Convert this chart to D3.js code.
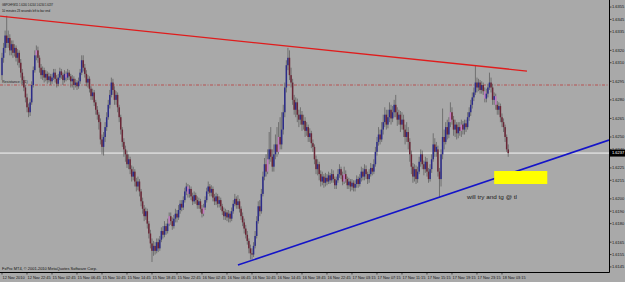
<!DOCTYPE html>
<html><head><meta charset="utf-8">
<script src="https://cdn.jsdelivr.net/npm/d3@7/dist/d3.min.js"></script>
<style>html,body{margin:0;padding:0;background:#a9a9a9;overflow:hidden}svg{display:block}</style>
</head><body><svg id="c" width="625" height="282"></svg>
<script>
// ---------- DATA (prices in pips above basePrice) ----------
const basePrice = 1.6;
const opens = [
300,314,322,332,326,330,320,325,318,322, 314,318,310,302,296,290,282,274,270,278,
292,304,316,320,314,306,300,304,298,301, 296,299,295,298,302,297,293,298,303,300,
296,301,298,302,299,295,297,292,294,291, 295,302,312,306,301,294,297,289,283,286,
278,272,268,262,248,242,250,258,266,276, 284,294,288,280,284,274,266,256,246,240,
236,228,232,224,218,222,214,210,214,206, 198,192,186,190,180,172,164,158,162,158,
165,160,167,174,171,178,174,180,186,182, 178,184,188,185,191,196,193,199,206,210,
204,208,202,198,203,199,195,198,192,188, 193,199,206,210,205,208,201,198,202,196,
199,194,190,186,189,185,188,184,190,196, 200,195,198,192,186,181,176,171,166,160,
156,155,162,170,182,194,190,204,218,228, 222,232,240,234,226,236,244,238,250,244,
256,270,290,308,314,300,294,280,272,278, 268,264,268,260,263,255,258,250,253,245,
242,232,224,228,220,214,218,213,217,214, 219,215,220,216,211,215,220,224,219,214,
220,216,211,214,210,213,209,212,216,212, 217,222,218,224,220,216,220,225,222,228,
238,246,252,248,256,262,268,260,266,272, 265,270,276,270,264,268,260,264,256,250,
254,246,236,226,218,224,216,222,230,236, 228,224,230,222,216,224,232,244,238,240,
222,216,236,250,246,258,252,262,270,264, 256,260,253,258,255,260,256,261,258,266,
270,276,282,286,294,290,294,288,292,287, 281,285,290,294,290,280,283,276,272,275,
266,262,258,250,240];
const closes = [
314,322,332,326,330,320,325,318,322,314, 318,310,302,296,290,282,274,270,278,292,
304,316,320,314,306,300,304,298,301,296, 299,295,298,302,297,293,298,303,300,296,
301,298,302,299,295,297,292,294,291,295, 302,312,306,301,294,297,289,283,286,278,
272,268,262,248,242,250,258,266,276,284, 294,288,280,284,274,266,256,246,240,236,
228,232,224,218,222,214,210,214,206,198, 192,186,190,180,172,164,158,162,158,165,
160,167,174,171,178,174,180,186,182,178, 184,188,185,191,196,193,199,206,210,204,
208,202,198,203,199,195,198,192,188,193, 199,206,210,205,208,201,198,202,196,199,
194,190,186,189,185,188,184,190,196,200, 195,198,192,186,181,176,171,166,160,156,
155,162,170,182,194,190,204,218,228,222, 232,240,234,226,236,244,238,250,244,256,
270,290,308,314,300,294,280,272,278,268, 264,268,260,263,255,258,250,253,245,242,
232,224,228,220,214,218,213,217,214,219, 215,220,216,211,215,220,224,219,214,220,
216,211,214,210,213,209,212,216,212,217, 222,218,224,220,216,220,225,222,228,238,
246,252,248,256,262,268,260,266,272,265, 270,276,270,264,268,260,264,256,250,254,
246,236,226,218,224,216,222,230,236,228, 224,230,222,216,224,232,244,238,242,222,
216,236,250,246,258,252,262,270,264,256, 260,253,258,255,260,256,261,258,266,270,
276,282,286,294,290,294,288,292,287,281, 285,290,294,290,280,283,276,272,275,266,
262,258,250,240,237];
const highs = [
318,326,336,348,336,333,328,328,325,324, 321,320,313,305,299,292,285,277,281,295,
307,320,324,323,316,309,307,306,304,303, 302,301,301,305,305,300,301,306,305,302,
304,303,305,304,301,300,299,297,296,298, 305,316,316,309,304,300,299,291,289,288,
280,275,270,265,252,254,262,270,280,288, 298,297,291,287,286,276,268,258,249,243,
239,236,234,227,226,224,217,218,216,208, 201,195,193,192,182,175,168,166,165,168,
168,170,177,178,182,180,184,189,189,185, 187,192,191,195,199,199,202,209,213,212,
211,210,205,206,205,202,201,200,195,196, 202,209,214,212,211,210,204,205,204,202,
201,196,193,192,191,191,190,193,199,204, 202,203,200,194,189,184,179,174,168,163,
160,165,174,186,198,199,208,222,233,236, 240,254,258,240,244,252,258,262,266,270,
276,294,312,322,320,306,297,284,282,281, 272,274,271,268,266,262,260,257,255,248,
244,235,232,230,223,222,220,221,220,222, 221,224,223,218,218,224,228,226,222,226,
223,218,217,216,216,215,215,219,218,220, 226,225,228,227,222,224,229,228,232,242,
250,258,256,262,268,274,272,272,278,276, 275,280,284,274,272,271,270,268,260,262,
258,249,239,229,228,227,226,234,240,239, 231,234,233,225,228,236,253,249,246,243,
225,240,273,256,262,264,266,278,274,267, 264,262,262,262,264,263,264,264,270,274,
280,286,290,308,298,297,296,295,294,290, 289,293,302,298,293,286,285,279,278,277,
269,265,260,252,244];
const lows = [
296,310,318,322,322,316,316,314,315,311, 308,306,298,292,287,278,270,266,267,276,
290,302,312,310,302,297,296,294,295,293, 294,292,293,296,294,290,291,296,297,292,
294,295,296,296,290,290,288,290,288,289, 293,300,303,298,291,290,286,280,280,275,
268,264,256,244,236,235,246,255,264,273, 282,284,276,276,270,262,252,242,234,230,
225,224,220,214,215,210,206,207,202,194, 188,182,183,176,168,160,149,154,155,156,
157,158,165,168,169,171,172,178,179,175, 176,181,181,183,188,190,191,197,203,201,
201,199,195,196,196,192,192,189,185,186, 191,197,204,202,202,198,195,195,193,193,
191,187,183,183,182,181,181,182,188,194, 192,192,189,183,178,172,168,163,156,151,
151,153,160,168,180,186,188,202,215,218, 220,228,230,222,222,232,234,236,240,240,
252,266,286,304,296,290,276,268,266,262, 258,260,255,256,250,251,246,246,241,238,
228,220,219,215,210,211,209,210,211,212, 212,213,213,208,208,213,217,216,211,212,
213,208,208,206,207,206,206,209,209,210, 214,215,215,216,212,213,218,219,220,226,
235,243,244,246,252,258,256,257,262,260, 262,266,266,259,260,254,256,250,244,246,
240,230,220,213,214,212,213,220,226,224, 219,221,218,213,214,221,230,234,234,218,
201,210,232,240,244,248,249,258,260,251, 250,248,249,251,250,252,252,254,256,263,
267,273,279,284,286,287,285,285,284,278, 278,282,288,286,276,276,272,268,268,262,
258,254,246,238,234];
const violetBars = [22,41,107,119,129,170,177,219,287,294,309,316];

const timeTickBars = [0,16,32,48,64,80,96,112,128,144,160,176,192,208,224,240,256,272,288,304,320];
const timeTickLabels = ["12 Nov 2010","12 Nov 22:45","15 Nov 02:45","15 Nov 06:45","15 Nov 10:45",
  "15 Nov 14:45","15 Nov 18:45","15 Nov 22:45","16 Nov 02:45","16 Nov 06:45","16 Nov 10:45",
  "16 Nov 14:45","16 Nov 18:45","16 Nov 22:45","17 Nov 03:15","17 Nov 07:15","17 Nov 11:15",
  "17 Nov 15:15","17 Nov 19:15","17 Nov 23:15","18 Nov 03:15"];
const priceTicks = [1.6355,1.6345,1.6335,1.6320,1.6310,1.6295,1.6280,1.6265,1.6250,1.6240,
  1.6225,1.6215,1.6200,1.6190,1.6180,1.6165,1.6155,1.6145];

const currentPrice = 1.6237;
const resistancePrice = 1.6292;
const redTrendBars = [-1.28, 336];
const redTrendPrices = [1.63477, 1.63033];
const blueTrendBars = [151, 388.5];
const blueTrendPrices = [1.61465, 1.62475];
const zoneBars = [315, 349];
const zonePrices = [1.62225, 1.62120];
const noteBar = 297.6, notePrice = 1.6200, noteText = "will try and tg @ tl";
const headerLine1 = "GBPCHF,M15  1.6240 1.6244 1.6234 1.6237";
const headerLine2 = "10 minutes 23 seconds left to bar end";
const footerText = "FxPro MT4, \u00A9 2001-2010 MetaQuotes Software Corp.";
const levelLabel = "Resistance (D1)";

// ---------- LAYOUT ----------
const W = 625, H = 282, plotR = 609, plotB = 272;
const svg = d3.select("#c");
const x = d3.scaleLinear().domain([-1.28, 388.5]).range([0, plotR]);
const y = d3.scaleLinear().domain([1.63607, 1.61409]).range([0, plotB]);
const P = v => basePrice + v / 10000;

svg.append("rect").attr("width", W).attr("height", H).attr("fill", "#a9a9a9");
svg.append("defs").append("clipPath").attr("id", "clip")
  .append("rect").attr("x", 0).attr("y", 0).attr("width", plotR).attr("height", plotB);
const plot = svg.append("g").attr("clip-path", "url(#clip)");

const FONT = "'Liberation Sans', Arial, sans-serif";

// resistance level (dash-dot)
plot.append("line").attr("x1", 0).attr("x2", plotR)
  .attr("y1", y(resistancePrice)).attr("y2", y(resistancePrice))
  .attr("stroke", "#b84848").attr("stroke-width", 0.9).attr("stroke-dasharray", "3,1.5,1,1.5");
plot.append("text").attr("x", 2).attr("y", y(resistancePrice) - 2.5)
  .attr("font-family", FONT).attr("font-size", 3.6).attr("fill", "#202020").text(levelLabel);

// current price line
plot.append("line").attr("x1", 0).attr("x2", plotR)
  .attr("y1", y(currentPrice)).attr("y2", y(currentPrice))
  .attr("stroke", "#ffffff").attr("stroke-width", 0.9);

// candles
const candles = opens.map((o, i) => ({i, o: P(o), h: P(highs[i]), l: P(lows[i]), c: P(closes[i])}));
const vset = new Set(violetBars);
plot.append("g").selectAll("line").data(candles).join("line")
  .attr("x1", d => x(d.i)).attr("x2", d => x(d.i))
  .attr("y1", d => y(d.h)).attr("y2", d => y(d.l))
  .attr("stroke", "#626262").attr("stroke-width", 0.8);
plot.append("g").selectAll("rect").data(candles).join("rect")
  .attr("x", d => x(d.i) - 0.75).attr("width", 1.5)
  .attr("y", d => y(Math.max(d.o, d.c)))
  .attr("height", d => Math.max(0.8, Math.abs(y(d.o) - y(d.c))))
  .attr("fill", d => vset.has(d.i) ? "#c27ac4" : (d.c >= d.o ? "#2c2c8a" : "#6a2636"));

// trendlines
const tl = d3.line().x(d => x(d[0])).y(d => y(d[1]));
plot.append("path").datum(redTrendBars.map((b, k) => [b, redTrendPrices[k]]))
  .attr("d", tl).attr("fill", "none").attr("stroke", "#e01c1c").attr("stroke-width", 1.3);
plot.append("path").datum(blueTrendBars.map((b, k) => [b, blueTrendPrices[k]]))
  .attr("d", tl).attr("fill", "none").attr("stroke", "#1414c8").attr("stroke-width", 1.6);

// target zone
plot.append("rect").attr("x", x(zoneBars[0])).attr("width", x(zoneBars[1]) - x(zoneBars[0]))
  .attr("y", y(zonePrices[0])).attr("height", y(zonePrices[1]) - y(zonePrices[0]))
  .attr("fill", "#ffff00");
plot.append("text").attr("x", x(noteBar)).attr("y", y(notePrice))
  .attr("font-family", FONT).attr("font-size", 6).attr("fill", "#1a1a1a")
  .attr("textLength", 50).attr("lengthAdjust", "spacingAndGlyphs").text(noteText);

// header & footer
svg.append("text").attr("x", 2).attr("y", 5.5).attr("font-family", FONT).attr("font-size", 3.4)
  .attr("fill", "#111").attr("textLength", 51).attr("lengthAdjust", "spacingAndGlyphs").text(headerLine1);
svg.append("text").attr("x", 2).attr("y", 11.5).attr("font-family", FONT).attr("font-size", 3.4)
  .attr("fill", "#111").attr("textLength", 48).attr("lengthAdjust", "spacingAndGlyphs").text(headerLine2);
svg.append("text").attr("x", 2).attr("y", 269.5).attr("font-family", FONT).attr("font-size", 3.8)
  .attr("fill", "#111").attr("textLength", 95).attr("lengthAdjust", "spacingAndGlyphs").text(footerText);

// axes frame
svg.append("line").attr("x1", plotR + 0.5).attr("x2", plotR + 0.5).attr("y1", 0).attr("y2", plotB + 0.5)
  .attr("stroke", "#000").attr("stroke-width", 1);
svg.append("line").attr("x1", 0).attr("x2", plotR + 0.5).attr("y1", plotB + 0.5).attr("y2", plotB + 0.5)
  .attr("stroke", "#000").attr("stroke-width", 1);

// price axis
const pa = svg.append("g");
pa.selectAll("line").data(priceTicks).join("line")
  .attr("x1", plotR + 0.5).attr("x2", plotR + 2.5).attr("y1", d => y(d)).attr("y2", d => y(d))
  .attr("stroke", "#000").attr("stroke-width", 0.6);
pa.selectAll("text").data(priceTicks).join("text")
  .attr("x", plotR + 3).attr("y", d => y(d) + 1.4)
  .attr("font-family", FONT).attr("font-size", 4).attr("fill", "#111")
  .text(d => d3.format(".4f")(d));
pa.append("rect").attr("x", plotR + 1).attr("y", y(currentPrice) - 3.5).attr("width", 15).attr("height", 7).attr("fill", "#000");
pa.append("text").attr("x", plotR + 3).attr("y", y(currentPrice) + 1.4)
  .attr("font-family", FONT).attr("font-size", 4).attr("fill", "#fff").text(d3.format(".4f")(currentPrice));

// time axis
const ta = svg.append("g");
ta.selectAll("line").data(timeTickBars).join("line")
  .attr("x1", d => x(d)).attr("x2", d => x(d)).attr("y1", plotB + 0.5).attr("y2", plotB + 2.5)
  .attr("stroke", "#000").attr("stroke-width", 0.6);
ta.selectAll("text").data(timeTickBars).join("text")
  .attr("x", d => x(d) + 0.5).attr("y", plotB + 7)
  .attr("font-family", FONT).attr("font-size", 3.9).attr("fill", "#111")
  .text((d, k) => timeTickLabels[k]);
</script></body></html>
